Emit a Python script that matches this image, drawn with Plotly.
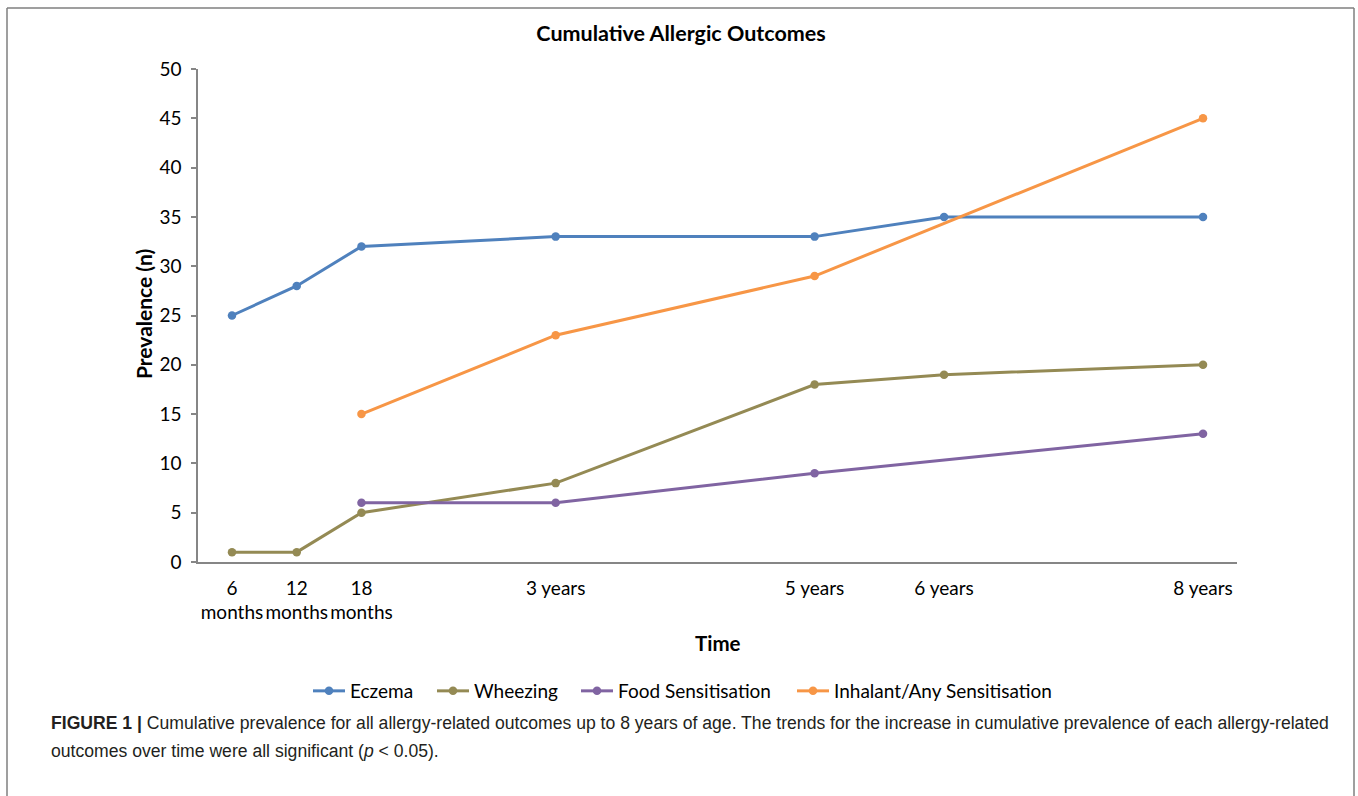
import plotly.graph_objects as go

# Data
months = [6, 12, 18, 36, 60, 72, 96]
tick_labels = ["6<br>months", "12<br>months", "18<br>months", "3 years", "5 years", "6 years", "8 years"]

eczema_x = [6, 12, 18, 36, 60, 72, 96]
eczema_y = [25, 28, 32, 33, 33, 35, 35]
wheezing_x = [6, 12, 18, 36, 60, 72, 96]
wheezing_y = [1, 1, 5, 8, 18, 19, 20]
food_x = [18, 36, 60, 96]
food_y = [6, 6, 9, 13]
inhalant_x = [18, 36, 60, 96]
inhalant_y = [15, 23, 29, 45]

series = [
    ("Eczema", eczema_x, eczema_y, "#4F81BD"),
    ("Wheezing", wheezing_x, wheezing_y, "#948A54"),
    ("Food Sensitisation", food_x, food_y, "#8064A2"),
    ("Inhalant/Any Sensitisation", inhalant_x, inhalant_y, "#F79646"),
]

W, H = 1358, 796
L, R, T, B = 198, 1237, 69, 562

def px(x):
    return (x - L) / (R - L)

def py(y):
    return (B - y) / (B - T)

# left pixel positions of each legend entry (layout only)
legend_left = [312, 436, 580, 796]
legend_keys = ["legend", "legend2", "legend3", "legend4"]

fig = go.Figure()
for (name, xs, ys, col), lk in zip(series, legend_keys):
    fig.add_trace(go.Scatter(
        x=xs, y=ys, name=name, mode="lines+markers",
        line=dict(color=col, width=3),
        marker=dict(color=col, size=8.5),
        legend=lk,
    ))

font_main = "Lato, 'Open Sans', sans-serif"
axis_col = "#868686"

legend_layout = {}
for lk, lx in zip(legend_keys, legend_left):
    legend_layout[lk] = dict(orientation="h", x=px(lx - 4), xanchor="left", y=py(691), yanchor="middle",
                             font=dict(size=19), itemwidth=32, tracegroupgap=0,
                             bgcolor="rgba(0,0,0,0)")

fig.update_layout(
    width=W, height=H,
    margin=dict(l=L, r=W - R, t=T, b=H - B, autoexpand=False),
    paper_bgcolor="white", plot_bgcolor="white",
    font=dict(family=font_main, size=18, color="#000000"),
    title=dict(text="<b>Cumulative Allergic Outcomes</b>", x=px(681), xref="paper", xanchor="center",
               y=1 - 33 / H, yanchor="middle", font=dict(size=21.5)),
    showlegend=True,
    xaxis=dict(range=[2.85, 99.15], tickmode="array", tickvals=months, ticktext=tick_labels,
               showgrid=False, zeroline=False, showline=True, linecolor=axis_col, linewidth=1.5,
               ticks="", tickfont=dict(size=19), ticklabelstandoff=8),
    yaxis=dict(range=[0, 50], tick0=0, dtick=5, showgrid=False, zeroline=False,
               showline=True, linecolor=axis_col, linewidth=1.5,
               ticks="outside", ticklen=5, tickcolor=axis_col, tickwidth=1.5,
               tickfont=dict(size=19), ticklabelstandoff=6),
    **legend_layout,
)

cap_font = dict(family="'Liberation Sans', Arial, sans-serif", size=17.6, color="#231F20")
annotations = [
    dict(text="<b>Time</b>", x=px(718), y=py(643), xref="paper", yref="paper",
         showarrow=False, xanchor="center", yanchor="middle", font=dict(size=20.5)),
    dict(text="<b>Prevalence (n)</b>", x=px(143), y=py(314), xref="paper", yref="paper",
         showarrow=False, xanchor="center", yanchor="middle", textangle=-90, font=dict(size=21)),
    dict(text="<b>FIGURE 1 |</b> Cumulative prevalence for all allergy-related outcomes up to 8 years of age. The trends for the increase in cumulative prevalence of each allergy-related",
         x=px(49), y=py(723), xref="paper", yref="paper", showarrow=False, xanchor="left",
         yanchor="middle", font=cap_font),
    dict(text="outcomes over time were all significant (<i>p</i> &lt; 0.05).",
         x=px(49), y=py(751), xref="paper", yref="paper", showarrow=False, xanchor="left",
         yanchor="middle", font=cap_font),
]
fig.update_layout(annotations=annotations)

frame_col = "#7F7F7F"
shapes = [
    dict(type="line", xref="paper", yref="paper", x0=px(7), x1=px(7), y0=py(8), y1=py(800),
         line=dict(color=frame_col, width=1.5)),
    dict(type="line", xref="paper", yref="paper", x0=px(1354), x1=px(1354), y0=py(8), y1=py(800),
         line=dict(color=frame_col, width=1.5)),
    dict(type="line", xref="paper", yref="paper", x0=px(7), x1=px(1354), y0=py(8), y1=py(8),
         line=dict(color=frame_col, width=1.5)),
]
fig.update_layout(shapes=shapes)

fig.write_html("out.html", config={"displayModeBar": False},
               post_script="document.body.style.margin='0';document.body.style.overflow='hidden';")
